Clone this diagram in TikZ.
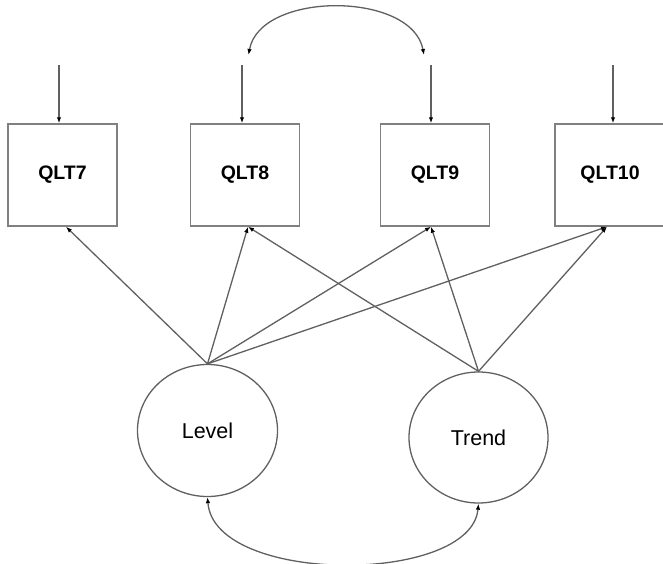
\documentclass[tikz,border=0pt]{standalone}
\usepackage{fontspec}
\setmainfont{Liberation Sans}
\usetikzlibrary{arrows.meta,shapes.geometric}

\definecolor{edgegray}{HTML}{606060}
\definecolor{boxgray}{HTML}{808080}

\tikzset{
  obsbox/.style={draw=boxgray, line width=1.5pt, rectangle,
    minimum width=109pt, minimum height=102pt, inner sep=0pt,
    font=\fontsize{19.5}{22}\selectfont\bfseries},
  latent/.style={draw=edgegray, line width=1.3pt, ellipse,
    minimum width=140pt, minimum height=132pt, inner sep=0pt,
    font=\fontsize{21.5}{24}\selectfont},
  path/.style={draw=edgegray, line width=1.3pt,
    -{Latex[length=6pt,width=4.5pt,color=black]}},
  covpath/.style={draw=edgegray, line width=1.3pt,
    {Latex[length=6pt,width=4.5pt,color=black]}-{Latex[length=6pt,width=4.5pt,color=black]}},
}

\begin{document}
\begin{tikzpicture}[x=1pt,y=-1pt]
  \useasboundingbox (0,0) rectangle (663,563);

  % observed indicators
  \node[obsbox] (q7)  at (62.5,175) {QLT7};
  \node[obsbox] (q8)  at (245,175)  {QLT8};
  \node[obsbox] (q9)  at (435,175)  {QLT9};
  \node[obsbox, minimum width=110pt] (q10) at (610,175) {QLT10};

  % growth factors
  \node[latent] (lev) at (207.5,430.5) {Level};
  \node[latent, minimum width=139pt, minimum height=131pt] (trd) at (478.5,437.5) {Trend};

  % residual terms
  \coordinate (e7)  at (59,65);
  \coordinate (e8)  at (242,65);
  \coordinate (e9)  at (431,65);
  \coordinate (e10) at (613,65);
  \draw[path] (e7)  -- (e7 |- q7.north);
  \draw[path] (e8)  -- (e8 |- q8.north);
  \draw[path] (e9)  -- (e9 |- q9.north);
  \draw[path] (e10) -- (e10 |- q10.north);

  % residual covariance between QLT8 and QLT9
  \coordinate (c8) at (248.5,55);
  \coordinate (c9) at (424,55);
  \draw[covpath] (c8) .. controls (260,-9) and (412,-9) .. (c9);

  % factor loadings
  \coordinate (t7)  at ([xshift=3.5pt]q7.south);
  \coordinate (t8)  at ([xshift=3pt]q8.south);
  \coordinate (t9)  at ([xshift=-4pt]q9.south);
  \coordinate (t10) at ([xshift=-3pt]q10.south);
  \draw[path] (lev.north) -- (t7);
  \draw[path] (lev.north) -- (t8);
  \draw[path] (lev.north) -- (t9);
  \draw[path] (lev.north) -- (t10);
  \draw[path] (trd.north) -- (t8);
  \draw[path] (trd.north) -- (t9);
  \draw[path] (trd.north) -- (t10);

  % factor covariance
  \draw[covpath] (lev.south) .. controls (214,585) and (471,585) .. (trd.south);
\end{tikzpicture}
\end{document}
